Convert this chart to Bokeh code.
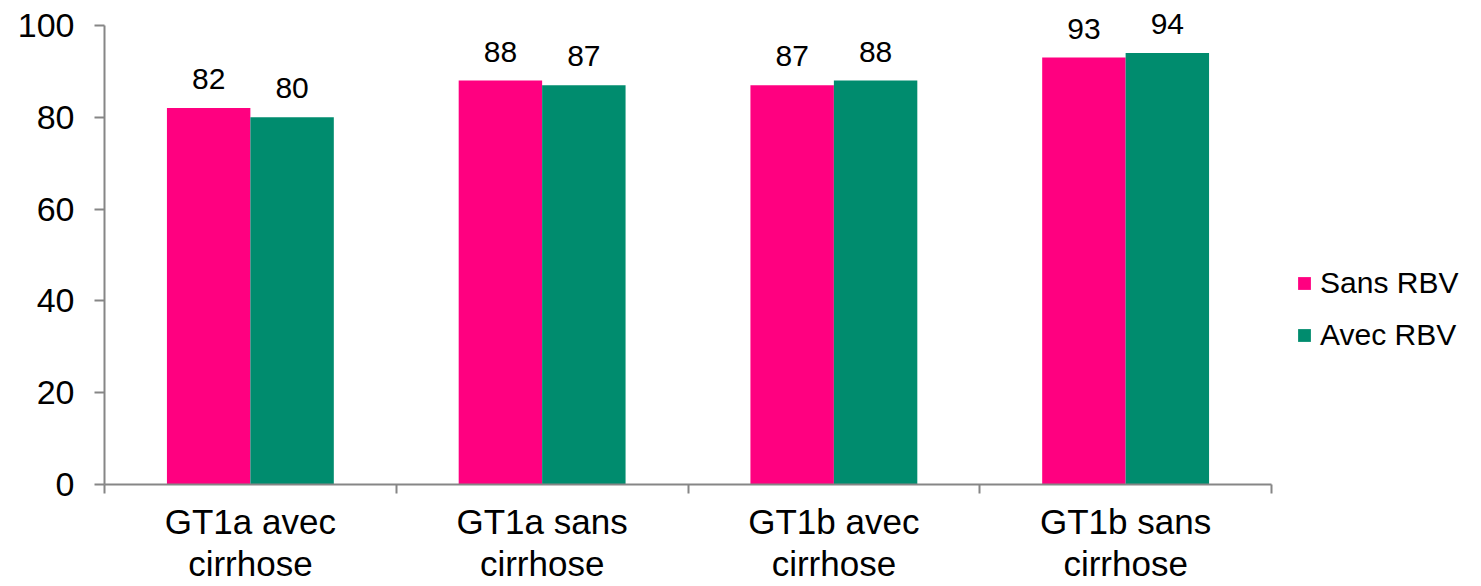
from bokeh.plotting import figure
from bokeh.models import ColumnDataSource, FixedTicker, Legend, LegendItem, Range1d
from bokeh.transform import dodge
from bokeh.core.properties import value
from bokeh.embed import file_html
from bokeh.resources import INLINE

categories = ["GT1a avec\ncirrhose", "GT1a sans\ncirrhose", "GT1b avec\ncirrhose", "GT1b sans\ncirrhose"]
sans_rbv = [82, 88, 87, 93]
avec_rbv = [80, 87, 88, 94]
y_ticks = [0, 20, 40, 60, 80, 100]
series_names = ["Sans RBV", "Avec RBV"]

PINK = "#FF0080"
GREEN = "#008C6E"
AXIS = "#868686"
FONT = "Liberation Sans"

W, H = 1481, 586
LEFT = 104
AXIS_RIGHT = 1271
Y_TOP_PX, Y_ZERO_PX = 25, 485          # where 100 and 0 sit on the page
n = len(categories)
y_max = y_ticks[-1]
x_end = n * (W - LEFT) / (AXIS_RIGHT - LEFT)            # room on the right for the legend
y_end = y_max + Y_TOP_PX * y_max / (Y_ZERO_PX - Y_TOP_PX)  # room above for the value labels

centers = [i + 0.5 for i in range(n)]
src = ColumnDataSource(dict(
    x=centers,
    sans=sans_rbv,
    avec=avec_rbv,
    sans_t=[str(v) for v in sans_rbv],
    avec_t=[str(v) for v in avec_rbv],
))

p = figure(width=W, height=H,
           x_range=Range1d(0, x_end), y_range=Range1d(0, y_end),
           output_backend="svg", toolbar_location=None,
           min_border_left=LEFT, min_border_right=0,
           min_border_top=0, min_border_bottom=H - Y_ZERO_PX)
p.outline_line_color = None
p.xgrid.visible = False
p.ygrid.visible = False
p.background_fill_color = "white"
p.border_fill_color = "white"

bw = 0.286
r1 = p.vbar(x=dodge("x", -bw / 2, range=p.x_range), top="sans", width=bw, bottom=0,
            source=src, fill_color=PINK, line_color=None)
r2 = p.vbar(x=dodge("x", bw / 2, range=p.x_range), top="avec", width=bw, bottom=0,
            source=src, fill_color=GREEN, line_color=None)

p.text(x=dodge("x", -bw / 2, range=p.x_range), y="sans", text="sans_t", source=src,
       text_align="center", text_baseline="alphabetic", y_offset=-29,
       text_font=value(FONT), text_font_size="30px", text_color="black")
p.text(x=dodge("x", bw / 2, range=p.x_range), y="avec", text="avec_t", source=src,
       text_align="center", text_baseline="alphabetic", y_offset=-29,
       text_font=value(FONT), text_font_size="30px", text_color="black")

# y axis
ya = p.yaxis[0]
ya.bounds = (0, y_max)
ya.ticker = FixedTicker(ticks=y_ticks, minor_ticks=[])
ya.axis_line_color = AXIS
ya.axis_line_width = 2
ya.major_tick_line_color = AXIS
ya.major_tick_line_width = 2
ya.major_tick_out = 10
ya.major_tick_in = 0
ya.minor_tick_line_color = None
ya.major_label_text_font = FONT
ya.major_label_text_font_size = "34px"
ya.major_label_text_color = "black"
ya.major_label_standoff = 20

# x axis: labels at category centres, ticks at category boundaries
xa = p.xaxis[0]
xa.bounds = (0, n)
xa.ticker = FixedTicker(ticks=centers, minor_ticks=list(range(n + 1)))
xa.major_label_overrides = {c: lab for c, lab in zip(centers, categories)}
xa.axis_line_color = AXIS
xa.axis_line_width = 2
xa.major_tick_line_color = None
xa.major_tick_out = 0
xa.major_tick_in = 0
xa.minor_tick_line_color = AXIS
xa.minor_tick_line_width = 2
xa.minor_tick_out = 9
xa.minor_tick_in = 0
xa.major_label_text_font = FONT
xa.major_label_text_font_size = "35px"
xa.major_label_text_color = "black"
xa.major_label_text_line_height = 1.1
xa.major_label_standoff = 8

legend = Legend(items=[LegendItem(label=series_names[0], renderers=[r1]),
                       LegendItem(label=series_names[1], renderers=[r2])],
                location=(1192, 132), orientation="vertical",
                border_line_color=None, background_fill_alpha=0,
                label_text_font=FONT, label_text_font_size="30px",
                label_text_color="black",
                glyph_width=16, glyph_height=16, label_height=30,
                label_standoff=8, spacing=18, padding=0, margin=0)
p.add_layout(legend, "center")

open("out.html", "w").write(file_html(p, INLINE))
